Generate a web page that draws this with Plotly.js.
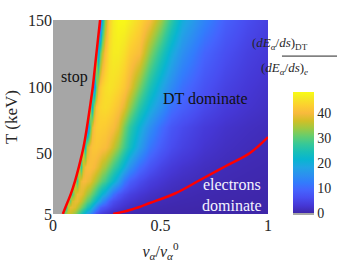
<!DOCTYPE html>
<html><head><meta charset="utf-8">
<script src="https://cdn.plot.ly/plotly-3.0.1.min.js"></script>
<style>html,body{margin:0;padding:0;background:#fff;}</style>
</head><body>
<div id="chart" style="width:349px;height:262px;"></div>
<script>
// ---- data ----
const velocity = [0, 0.03, 0.04, 0.05, 0.06, 0.07, 0.08, 0.09, 0.10, 0.11, 0.12, 0.13, 0.14, 0.15, 0.16, 0.17, 0.18, 0.19, 0.20, 0.21, 0.22, 0.23, 0.24, 0.26, 0.28, 0.30, 0.33, 0.36, 0.40, 0.45, 0.50, 0.55, 0.60, 0.70, 0.80, 0.90, 1.00];
const temperature = [5, 10, 15, 20, 30, 40, 55, 70, 85, 100, 125, 150];
// stopping-power ratio (dE/ds)_DT / (dE/ds)_e ; cells left of the stop curve are hidden under the grey "stop" area (placeholder 36)
const ratioT5   = [36,36,36,28,35.4,37,36.6,35.3,33,30.3,27.7,25,22.3,19.7,17,14.3,11.5,8.8,6,5,4,3.3,2.6,1.8,1.1,0.85,0.62,0.49,0.36,0.25,0.18,0.14,0.11,0.07,0.045,0.03,0.023];
const ratioT10  = [36,36,36,36,26,36,38.5,38.5,37.7,36,34,32,30,28,25.3,22.7,20,17.3,14.5,11.8,9,8,7,5.5,4.2,3.2,2.3,1.65,1.1,0.75,0.52,0.39,0.3,0.19,0.13,0.09,0.065];
const ratioT15  = [36,36,36,36,36,36,31,37.4,38.8,38.8,37.6,36.1,34.2,32.3,30.4,28.5,26.2,23.9,21.6,19.3,17.5,14.7,12.3,8.5,6.3,5,3.7,2.8,2.0,1.3,0.95,0.72,0.55,0.35,0.23,0.16,0.12];
const ratioT20  = [36,36,36,36,36,36,36,29,36.7,39,39,38.5,37.5,35.8,34.1,32.4,30.7,29,27,25,23,21,19,15,11,8,5.8,4.3,3.1,2.1,1.5,1.1,0.85,0.53,0.36,0.25,0.18];
const ratioT30  = [36,36,36,36,36,36,36,36,36,28,36.5,39.2,40,40,39.3,38.5,37.1,35.7,34.3,32.8,31.4,30,28.4,25.2,22,18,12,8.5,6,4,2.9,2.1,1.6,1.0,0.66,0.46,0.34];
const ratioT40  = [36,36,36,36,36,36,36,36,36,36,36,27.4,37.3,39.7,40.7,41,40.5,40,39,38,36.7,35.3,34,31.3,28.4,25.2,20.3,15.3,10.5,7,4.8,3.5,2.6,1.6,1.05,0.73,0.53];
const ratioT55  = [36,36,36,36,36,36,36,36,36,36,36,36,36,23.5,36.4,40.2,41.5,41.8,41.9,41.6,41.3,40.9,40.5,38.8,36.4,33.2,28.4,23.6,17.7,11.5,8.2,6.0,4.6,2.7,1.75,1.2,0.85];
const ratioT70  = [36,36,36,36,36,36,36,36,36,36,36,36,36,36,8,28.8,38.2,41.2,42.5,42.8,42.9,42.7,42.5,41.5,40.5,38,32,26.8,21,15,10.5,7.5,5.8,3.6,2.4,1.7,1.25];
const ratioT85  = [36,36,36,36,36,36,36,36,36,36,36,36,36,36,36,36,21.6,35.2,40.7,42.6,43.8,44.2,44.5,44,43,41.5,38.3,33.3,26.8,20.3,15.5,11,8.8,5.6,3.7,2.6,1.85];
const ratioT100 = [36,36,36,36,36,36,36,36,36,36,36,36,36,36,36,36,36,12.5,30,38,42,43.6,44.8,45.5,45,44,42,38.5,32.3,24.9,19,14.5,10.8,6.9,4.6,3.2,2.3];
const ratioT125 = [36,36,36,36,36,36,36,36,36,36,36,36,36,36,36,36,36,36,36,18,30,36,41,45,46.5,46.5,45,42.5,40.5,32.5,26,20,15.2,9.4,6.4,4.4,3.2];
const ratioT150 = [36,36,36,36,36,36,36,36,36,36,36,36,36,36,36,36,36,36,36,36,2,22,34,43,46.5,48,48,46.5,44,40,34,27,20,13.5,8.7,6,4.3];
// "stop" boundary (red curve on the left)
const stopT = [5, 10, 20, 30, 40, 55, 70, 85, 100, 125, 150];
const stopV = [0.046, 0.058, 0.083, 0.103, 0.120, 0.142, 0.158, 0.172, 0.185, 0.202, 0.219];
// ratio = 1 curve (electrons dominate below)
const equalV = [0.28, 0.37, 0.45, 0.57, 0.684, 0.80, 0.916, 1.0];
const equalT = [5, 8.6, 13.2, 20.5, 30.4, 40.5, 50.6, 62.5];
const cbTicks = [0, 10, 20, 30, 40];
const xTicks = [0, 0.5, 1];
const xTickText = ['0', '0.5', '1'];
const yTicks = [5, 50, 100, 150];

const zRows = [ratioT5, ratioT10, ratioT15, ratioT20, ratioT30, ratioT40, ratioT55, ratioT70, ratioT85, ratioT100, ratioT125, ratioT150];

// ---- colormap: grey (stop) + parula ----
const parula = [[62,38,168],[69,55,213],[72,77,240],[69,99,253],[50,124,252],[43,145,239],[32,165,227],[8,181,208],[25,191,182],[55,200,151],[100,205,111],[157,201,67],[209,191,39],[248,186,61],[252,207,48],[245,233,36],[249,251,21]];
const parulaPos = [0,4,8,12,16,20,24,28,32,36,40,44,48,52,56,60,63].map(i => i/63);
const zmin = -0.7, zmax = 48.5;
const f0 = (0 - zmin) / (zmax - zmin);
const gray = 'rgb(166,166,166)';
const cs = [[0, gray], [f0, gray]];
parula.forEach((c, i) => cs.push([f0 + parulaPos[i] * (1 - f0), 'rgb(' + c.join(',') + ')']));

const serif = "'Liberation Serif', 'DejaVu Serif', 'Times New Roman', serif";
const txt = '#262626';

const traces = [
  {
    type: 'heatmap', x: velocity, y: temperature, z: zRows,
    zsmooth: 'best', zmin: zmin, zmax: zmax, colorscale: cs,
    hoverinfo: 'skip',
    colorbar: {
      x: 1.116, xanchor: 'left', xpad: 0, ypad: 0,
      y: -0.005, yanchor: 'bottom', len: 123, lenmode: 'pixels',
      thickness: 21, thicknessmode: 'pixels', outlinewidth: 0,
      tickvals: cbTicks, ticks: '', tickfont: {family: serif, size: 14, color: txt}
    }
  },
  {
    type: 'scatter', mode: 'lines', x: stopV, y: stopT, fill: 'tozerox',
    fillcolor: gray, line: {width: 0, shape: 'spline'}, hoverinfo: 'skip', showlegend: false
  },
  {
    type: 'scatter', mode: 'lines', x: stopV, y: stopT,
    line: {color: 'rgb(255,0,0)', width: 2.5, shape: 'spline'}, hoverinfo: 'skip', showlegend: false
  },
  {
    type: 'scatter', mode: 'lines', x: equalV, y: equalT,
    line: {color: 'rgb(255,0,0)', width: 2.5, shape: 'spline'}, hoverinfo: 'skip', showlegend: false
  }
];

const layout = {
  width: 349, height: 262,
  margin: {l: 53, r: 81, t: 20, b: 48},
  paper_bgcolor: '#fff', plot_bgcolor: '#fff',
  showlegend: false,
  font: {family: serif, color: txt},
  xaxis: {
    range: [0, 1], tickvals: xTicks, ticktext: xTickText, ticks: '',
    showgrid: false, zeroline: false, showline: false,
    tickfont: {family: serif, size: 16, color: txt},
    title: {text: '<i>v</i><sub><i>α</i></sub>/<i>v</i><sub><i>α</i></sub><sup>0</sup>', font: {family: serif, size: 16, color: txt}, standoff: 16}
  },
  yaxis: {
    range: [5, 150], tickvals: yTicks, ticks: '',
    showgrid: false, zeroline: false, showline: false,
    tickfont: {family: serif, size: 16, color: txt},
    title: {text: 'T (keV)', font: {family: serif, size: 17, color: txt}, standoff: 6}
  },
  annotations: [
    {x: 0.102, y: 107.4, xref: 'x', yref: 'y', text: 'stop', showarrow: false, font: {family: serif, size: 16, color: '#111'}},
    {x: 0.707, y: 91.7, xref: 'x', yref: 'y', text: 'DT dominate', showarrow: false, font: {family: serif, size: 16, color: '#111'}},
    {x: 0.833, y: 19.2, xref: 'x', yref: 'y', text: 'electrons<br>dominate', showarrow: false, font: {family: serif, size: 16, color: '#f4f4ff'}},
    {x: 1.195, y: 0.825, xref: 'paper', yref: 'paper', yanchor: 'bottom', text: '(<i>dE</i><sub><i>α</i></sub>/<i>ds</i>)<sub>DT</sub>', showarrow: false, font: {family: serif, size: 13, color: txt}},
    {x: 1.195, y: 0.804, xref: 'paper', yref: 'paper', yanchor: 'top', text: '(<i>dE</i><sub><i>α</i></sub>/<i>ds</i>)<sub><i>e</i></sub>', showarrow: false, font: {family: serif, size: 13, color: txt}}
  ],
  shapes: [
    {type: 'line', xref: 'paper', yref: 'paper', x0: 1.065, x1: 1.321, y0: 0.814, y1: 0.814, line: {color: txt, width: 1}}
  ]
};

Plotly.newPlot('chart', traces, layout, {staticPlot: true, displayModeBar: false});
</script>
</body></html>
